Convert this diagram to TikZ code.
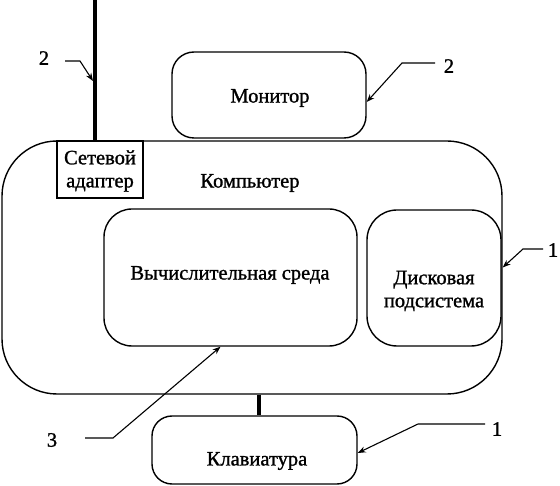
\documentclass[tikz,border=0pt]{standalone}
\usepackage{fontspec}
\setmainfont{Liberation Serif}
\newfontfamily\heavyserif{Liberation Serif}[FakeBold=1.2]
\usetikzlibrary{arrows.meta}
\begin{document}
\begin{tikzpicture}[x=1pt,y=-1pt,
  box/.style={draw,line width=1.4pt,inner sep=0pt},
  txt/.style={font=\heavyserif\fontsize{20.5}{23}\selectfont,align=center,inner sep=0pt},
  num/.style={font=\heavyserif\fontsize{20.5}{23}\selectfont,inner sep=0pt},
  lead/.style={line width=1.1pt,-{Stealth[length=8pt,width=6pt]}},
  thick link/.style={line width=4.5pt}]
\useasboundingbox (0,0) rectangle (560,486);
% boxes
\node[box,rounded corners=55pt,minimum width=500pt,minimum height=253pt] (comp) at (252,267.5) {};
\node[box,fill=white,minimum width=86pt,minimum height=57pt] (adapter) at (100,169.5) {};
\node[txt] (adaptertext) at (100,171) {Сетевой\\адаптер};
\node[box,rounded corners=22pt,minimum width=194pt,minimum height=86pt] (monitor) at (269,95) {};
\node[txt] (monitortext) at (270,98) {Монитор};
\node[txt] (comptext) at (250,183) {Компьютер};
\node[box,rounded corners=28pt,minimum width=253pt,minimum height=137pt] (calc) at (230.5,277.5) {};
\node[txt] (calctext) at (230,275) {Вычислительная среда};
\node[box,rounded corners=30pt,minimum width=134pt,minimum height=136pt] (disk) at (434,278) {};
\node[txt] (disktext) at (434,291) {Дисковая\\подсистема};
\node[box,rounded corners=20pt,minimum width=205pt,minimum height=68pt] (kbd) at (254.5,450) {};
\node[txt] (kbdtext) at (257,461) {Клавиатура};
% thick links
\coordinate (netTop) at (95,0);
\draw[thick link] (netTop) -- (netTop |- adapter.north);
\coordinate (kx) at (259,400);
\draw[thick link] (comp.south -| kx) -- (kbd.north -| kx);
% numbers
\node[num] (n2a) at (44,58) {2};
\node[num] (n2b) at (449,66) {2};
\node[num] (n1a) at (553,250) {1};
\node[num] (n3) at (52,440) {3};
\node[num] (n1b) at (497,429) {1};
% leaders
\coordinate (netArrow) at (93,81);
\coordinate (s2a) at (65,61);
\draw[lead] (s2a) -- ++(15,0) -- (netArrow);
\coordinate (s2b) at (435,63);
\draw[lead] (s2b) -- ++(-33,0) -- ([yshift=-7pt]monitor.east);
\coordinate (s1a) at (543,249);
\draw[lead] (s1a) -- ++(-20,0) -- (comp.east);
\coordinate (s3) at (85,438);
\draw[lead] (s3) -- ++(28,0) -- ([xshift=-10pt]calc.south);
\coordinate (s1b) at (485,424);
\draw[lead] (s1b) -- ++(-67,0) -- ([yshift=-3pt]kbd.east);
\end{tikzpicture}
\end{document}
